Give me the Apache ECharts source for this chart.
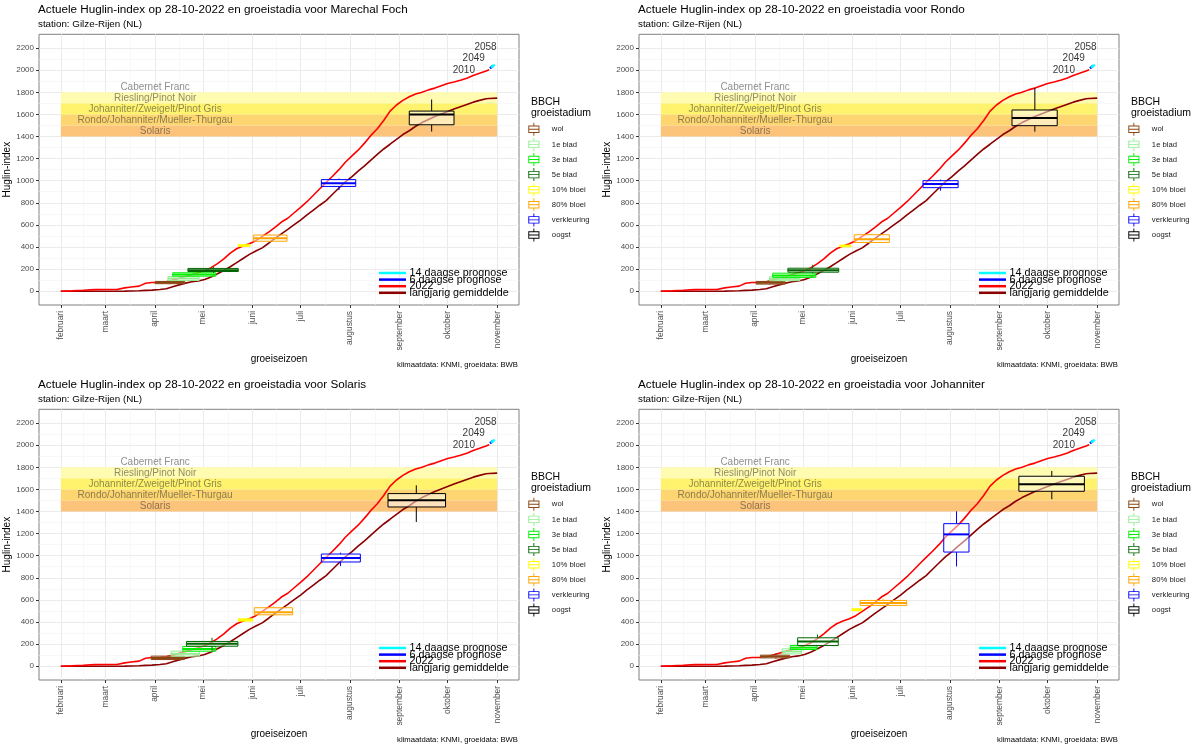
<!DOCTYPE html>
<html>
<head>
<meta charset="utf-8">
<script src="https://cdn.jsdelivr.net/npm/echarts@6/dist/echarts.min.js"></script>
<style>
  html, body { margin: 0; padding: 0; background: #fff; }
  #chart { width: 1200px; height: 750px; }
</style>
</head>
<body>
<div id="chart"></div>
<script>
var FONT = '"Liberation Sans", Arial, sans-serif';

// x axis: days counted from 1 februari
var monthDays = [0, 28, 59, 89, 120, 150, 181, 212, 242, 273];
var monthNames = ['februari', 'maart', 'april', 'mei', 'juni', 'juli', 'augustus', 'september', 'oktober', 'november'];
var yTicks = [0, 200, 400, 600, 800, 1000, 1200, 1400, 1600, 1800, 2000, 2200];
var yMinor = [100, 300, 500, 700, 900, 1100, 1300, 1500, 1700, 1900, 2100];

// cumulative Huglin index, 2022 and long term mean
var seasonDays = [0, 7, 14, 21, 28, 35, 40, 44, 49, 53, 57, 62, 66, 70, 74, 78, 82, 86, 90, 94, 98, 102, 106, 110,
  114, 118, 122, 126, 130, 134, 138, 142, 146, 150, 154, 158, 162, 166, 170, 174, 178, 182, 186, 190, 194, 198,
  202, 206, 210, 214, 218, 222, 226, 230, 234, 238, 242, 246, 250, 254, 258, 262, 266, 268, 273];
var huglin2022 = [0, 3, 8, 14, 15, 15, 30, 38, 46, 72, 78, 80, 86, 100, 117, 134, 150, 166, 186, 213, 250, 292, 345, 384,
  408, 430, 457, 496, 535, 578, 626, 660, 710, 759, 810, 868, 927, 985, 1040, 1100, 1167, 1223, 1276, 1340, 1410, 1470,
  1545, 1630, 1685, 1727, 1760, 1785, 1800, 1822, 1838, 1860, 1880, 1893, 1910, 1928, 1952, 1972, 1992, 2005, null];
var huglinMean = [0, 0, 0, 0, 0, 0, 1, 2, 4, 7, 10, 15, 22, 40, 57, 73, 85, 93, 105, 128, 158, 188, 221, 259,
  296, 333, 363, 392, 434, 478, 519, 560, 602, 644, 690, 734, 778, 820, 877, 934, 990, 1035, 1086, 1135, 1187, 1239,
  1287, 1330, 1374, 1418, 1452, 1493, 1526, 1554, 1581, 1604, 1626, 1648, 1669, 1690, 1711, 1727, 1742, 1744, 1747];
var sixDayDays = [268.5, 270.5];
var sixDayVals = [2018, 2040];
var fourteenDays = [269, 271.5];
var fourteenVals = [2025, 2050];

var endLabels = ['2058', '2049', '2010'];
var endLabelDays = [273, 265.6, 259.4];
var endLabelVals = [2209, 2107, 2004];

// variety bands
var bandNames = ['Solaris', 'Rondo/Johanniter/Mueller-Thurgau', 'Johanniter/Zweigelt/Pinot Gris', 'Riesling/Pinot Noir', 'Cabernet Franc'];
var bandLow = [1400, 1500, 1600, 1700, 1800];
var bandHigh = [1500, 1600, 1700, 1800, 1900];
var bandStart = 0, bandEnd = 273, bandLabelDay = 59;
var bandColors = ['#FCC47A', '#FDD671', '#FFF36E', '#FFFBB0', 'rgba(255,255,255,0)'];

var stages = ['wol', '1e blad', '3e blad', '5e blad', '10% bloei', '80% bloei', 'verkleuring', 'oogst'];
var stageColors = ['#8B4513', '#90EE90', '#00EE00', '#006400', '#FFFF00', '#FFA500', '#0000FF', '#000000'];

// per stage: [dayLo, dayMid, dayHi, whiskerLo, q1, median, q3, whiskerHi]
var boxesFoch = [
  [59, 68, 77.5, 62, 68, 78, 88, 95],
  [67, 76, 86.5, 90, 97, 115, 132, 140],
  [70, 83, 97, 130, 136, 150, 167, 172],
  [79.5, 95.5, 111, 165, 178, 190, 206, 220],
  [111, 115, 118.5, 405, 407, 414, 420, 423],
  [120.5, 131, 141.5, 445, 452, 480, 508, 512],
  [163, 174, 184.5, 915, 948, 978, 1010, 1020],
  [218, 232, 246, 1445, 1506, 1600, 1630, 1735]
];
var boxesRondo = [
  [59.6, 68, 77.8, 58, 64, 76, 88, 92],
  [68, 77, 87, 88, 95, 112, 130, 136],
  [70, 84, 97, 118, 125, 143, 163, 170],
  [79.5, 95, 111.3, 160, 172, 190, 208, 239],
  [112, 115, 119, 400, 402, 410, 417, 420],
  [121, 132, 143, 435, 441, 471, 511, 520],
  [164, 175, 186, 910, 937, 970, 1000, 1010],
  [219.7, 234, 248, 1444, 1498, 1568, 1640, 1840]
];
var boxesSolaris = [
  [56.5, 67, 77.3, 55, 60, 75, 91, 95],
  [69, 78, 86.7, 88, 91, 112, 136, 140],
  [76.3, 87, 97, 130, 136, 155, 178, 183],
  [78.6, 94.6, 110.8, 142, 181, 202, 224, 257],
  [111, 115, 120, 405, 408, 418, 429, 432],
  [121, 133, 145, 455, 465, 489, 529, 540],
  [163, 175, 187.4, 906, 943, 979, 1015, 1027],
  [204.7, 222.4, 240.7, 1305, 1441, 1502, 1562, 1637]
];
var boxesJohanniter = [
  [62.3, 72, 80.6, 65, 75, 88, 100, 118],
  [75.9, 82, 88, 105, 112, 133, 157, 160],
  [81, 89, 97.7, 145, 151, 168, 187, 195],
  [85.6, 98, 111, 180, 187, 224, 257, 287],
  [119.5, 122.6, 125.7, 500, 502, 510, 520, 522],
  [124.7, 139, 153.8, 545, 550, 571, 595, 610],
  [177, 185, 192.8, 903, 1033, 1193, 1290, 1402],
  [224, 244.6, 265, 1511, 1583, 1647, 1719, 1767]
];

var varieties = ['Marechal Foch', 'Rondo', 'Solaris', 'Johanniter'];
var varietyBoxes = [boxesFoch, boxesRondo, boxesSolaris, boxesJohanniter];

var lineNames = ['14 daagse prognose', '6 daagse prognose', '2022', 'langjarig gemiddelde'];
var lineColors = ['#00FFFF', '#0000FF', '#FF0000', '#8B0000'];

// boxplot glyph for the legend (outline made of filled strips)
var boxIcon = 'path://M5.5 0L6.5 0L6.5 3L5.5 3Z M0 3L12 3L12 11L0 11Z M1 4L1 10L11 10L11 4Z ' +
  'M0 6.5L12 6.5L12 7.5L0 7.5Z M5.5 11L6.5 11L6.5 14L5.5 14Z';

function pairs(xs, ys) {
  var out = [];
  for (var i = 0; i < xs.length; i++) {
    if (ys[i] != null) out.push([xs[i], ys[i]]);
  }
  return out;
}

function boxRenderer(color) {
  return function (params, api) {
    var lo = api.coord([api.value(0), api.value(4)]);
    var hi = api.coord([api.value(2), api.value(6)]);
    var med = api.coord([api.value(1), api.value(5)]);
    var wl = api.coord([api.value(1), api.value(3)]);
    var wh = api.coord([api.value(1), api.value(7)]);
    return {
      type: 'group',
      children: [
        { type: 'line', shape: { x1: wl[0], y1: wl[1], x2: wl[0], y2: lo[1] }, style: { stroke: color, lineWidth: 1 } },
        { type: 'line', shape: { x1: wh[0], y1: hi[1], x2: wh[0], y2: wh[1] }, style: { stroke: color, lineWidth: 1 } },
        { type: 'rect', shape: { x: lo[0], y: hi[1], width: hi[0] - lo[0], height: lo[1] - hi[1] },
          style: { fill: 'rgba(255,255,255,0.5)', stroke: color, lineWidth: 1 } },
        { type: 'line', shape: { x1: lo[0], y1: med[1], x2: hi[0], y2: med[1] }, style: { stroke: color, lineWidth: 2 } }
      ]
    };
  };
}

function renderBand(params, api) {
  var a = api.coord([api.value(0), api.value(3)]);
  var b = api.coord([api.value(1), api.value(2)]);
  return {
    type: 'rect',
    shape: { x: a[0], y: a[1], width: b[0] - a[0], height: b[1] - a[1] },
    style: { fill: bandColors[api.value(4)] }
  };
}

var minorDays = [];
for (var m = 0; m < monthDays.length - 1; m++) minorDays.push((monthDays[m] + monthDays[m + 1]) / 2);

var X_MIN = -13.65, X_MAX = 286.65, Y_MIN = -125, Y_MAX = 2325;

var option = {
  animation: false,
  backgroundColor: '#ffffff',
  textStyle: { fontFamily: FONT },
  title: [], grid: [], xAxis: [], yAxis: [], legend: [], series: []
};

varieties.forEach(function (variety, g) {
  var ox = (g % 2) * 600, oy = Math.floor(g / 2) * 375;
  var xi = option.xAxis.length, yi = option.yAxis.length;

  option.title.push(
    { text: 'Actuele Huglin-index op 28-10-2022 en groeistadia voor ' + variety, left: 38 + ox, top: 3.5 + oy, padding: 0,
      textStyle: { fontSize: 11.7, lineHeight: 12, fontWeight: 'normal', color: '#000', fontFamily: FONT } },
    { text: 'station: Gilze-Rijen (NL)', left: 38 + ox, top: 19.5 + oy, padding: 0,
      textStyle: { fontSize: 9.8, lineHeight: 10, fontWeight: 'normal', color: '#000', fontFamily: FONT } },
    { text: 'BBCH\ngroeistadium', left: 531 + ox, top: 96.2 + oy, padding: 0,
      textStyle: { fontSize: 10.5, lineHeight: 11, fontWeight: 'normal', color: '#000', fontFamily: FONT } },
    { text: 'klimaatdata: KNMI, groeidata: BWB', right: 682 - ox, top: 361 + oy, padding: 0,
      textStyle: { fontSize: 7.7, lineHeight: 8, fontWeight: 'normal', color: '#000', fontFamily: FONT } }
  );

  option.grid.push({
    left: 39 + ox, top: 34.3 + oy, width: 480, height: 270.7,
    show: true, borderColor: '#808080', borderWidth: 1, backgroundColor: 'transparent'
  });

  option.xAxis.push({
    gridIndex: g, type: 'value', min: X_MIN, max: X_MAX, position: 'bottom',
    axisLine: { show: false, onZero: false },
    axisTick: { show: true, length: 3, lineStyle: { color: '#333' }, customValues: monthDays },
    axisLabel: {
      customValues: monthDays, rotate: 90, fontSize: 8.4, color: '#4d4d4d', margin: 6, fontFamily: FONT,
      formatter: function (v) { return monthNames[monthDays.indexOf(v)]; }
    },
    splitLine: { show: true, lineStyle: { color: '#EBEBEB', width: 1 } },
    name: 'groeiseizoen', nameLocation: 'middle', nameGap: 45,
    nameTextStyle: { fontSize: 10, color: '#000', fontFamily: FONT }
  }, {
    gridIndex: g, type: 'value', min: X_MIN, max: X_MAX, position: 'top',
    axisLine: { show: false, onZero: false }, axisLabel: { show: false },
    axisTick: { show: false, customValues: minorDays },
    splitLine: { show: true, lineStyle: { color: '#F3F3F3', width: 0.6 } }
  });

  option.yAxis.push({
    gridIndex: g, type: 'value', min: Y_MIN, max: Y_MAX, position: 'left',
    axisLine: { show: false, onZero: false },
    axisTick: { show: true, length: 3, lineStyle: { color: '#333' }, customValues: yTicks },
    axisLabel: { customValues: yTicks, fontSize: 8, color: '#4d4d4d', margin: 5, fontFamily: FONT,
      formatter: function (v) { return String(v); } },
    splitLine: { show: true, lineStyle: { color: '#EBEBEB', width: 1 } },
    name: 'Huglin-index', nameLocation: 'middle', nameGap: 27, nameRotate: 90,
    nameTextStyle: { fontSize: 10, color: '#000', fontFamily: FONT }
  }, {
    gridIndex: g, type: 'value', min: Y_MIN, max: Y_MAX, position: 'right',
    axisLine: { show: false, onZero: false }, axisLabel: { show: false },
    axisTick: { show: false, customValues: yMinor },
    splitLine: { show: true, lineStyle: { color: '#F3F3F3', width: 0.6 } }
  });

  // bands
  var bandData = bandNames.map(function (n, i) { return [bandStart, bandEnd, bandLow[i], bandHigh[i], i]; });
  option.series.push({
    type: 'custom', name: 'bands', xAxisIndex: xi, yAxisIndex: yi, z: 1, silent: true,
    renderItem: renderBand, data: bandData, encode: { x: [0, 1], y: [2, 3] }
  });
  option.series.push({
    type: 'scatter', name: 'bandlabels', xAxisIndex: xi, yAxisIndex: yi, z: 2, silent: true,
    symbolSize: 1, itemStyle: { color: 'transparent' },
    data: bandNames.map(function (n, i) { return { name: n, value: [bandLabelDay, (bandLow[i] + bandHigh[i]) / 2] }; }),
    label: { show: true, position: 'inside', formatter: '{b}', fontSize: 10, color: 'rgba(45,45,45,0.68)', fontFamily: FONT }
  });

  // lines
  var lineData = [pairs(fourteenDays, fourteenVals), pairs(sixDayDays, sixDayVals),
    pairs(seasonDays, huglin2022), pairs(seasonDays, huglinMean)];
  var lineOrder = [3, 2, 1, 0];
  lineOrder.forEach(function (k) {
    option.series.push({
      type: 'line', name: lineNames[k], xAxisIndex: xi, yAxisIndex: yi, z: 3,
      showSymbol: false, symbol: 'none', silent: true,
      lineStyle: { color: lineColors[k], width: k < 2 ? 2.5 : 1.6 },
      itemStyle: { color: lineColors[k] },
      data: lineData[k]
    });
  });

  // stage boxes
  varietyBoxes[g].forEach(function (row, s) {
    option.series.push({
      type: 'custom', name: stages[s], xAxisIndex: xi, yAxisIndex: yi, z: 4, silent: true,
      itemStyle: { color: stageColors[s] },
      renderItem: boxRenderer(stageColors[s]),
      data: [row], encode: { x: [0, 1, 2], y: [3, 4, 5, 6, 7] }
    });
  });

  // end labels
  option.series.push({
    type: 'scatter', name: 'endlabels', xAxisIndex: xi, yAxisIndex: yi, z: 5, silent: true,
    symbolSize: 1, itemStyle: { color: 'transparent' },
    data: endLabels.map(function (t, i) { return { name: t, value: [endLabelDays[i], endLabelVals[i]] }; }),
    label: { show: true, position: 'left', distance: 0, formatter: '{b}', fontSize: 10, color: '#000', fontFamily: FONT }
  });

  option.legend.push({
    orient: 'vertical', left: 528.3 + ox, top: 122.8 + oy, padding: 0,
    itemWidth: 12, itemHeight: 13, itemGap: 2.1, selectedMode: false,
    itemStyle: { borderWidth: 0 },
    textStyle: { fontSize: 7.7, color: '#1a1a1a', fontFamily: FONT, padding: [0, 0, 0, 7] },
    data: stages.map(function (n) { return { name: n, icon: boxIcon }; })
  });
  option.legend.push({
    orient: 'vertical', left: 379 + ox, top: 267.5 + oy, padding: 0,
    icon: 'rect', itemWidth: 27, itemHeight: 2.5, itemGap: -4.4, selectedMode: false,
    itemStyle: { borderWidth: 0 },
    textStyle: { fontSize: 10.75, color: '#000', fontFamily: FONT, padding: [0, 0, 0, -1.5] },
    data: lineNames.slice()
  });
});

var chart = echarts.init(document.getElementById('chart'));
chart.setOption(option);
</script>
</body>
</html>
